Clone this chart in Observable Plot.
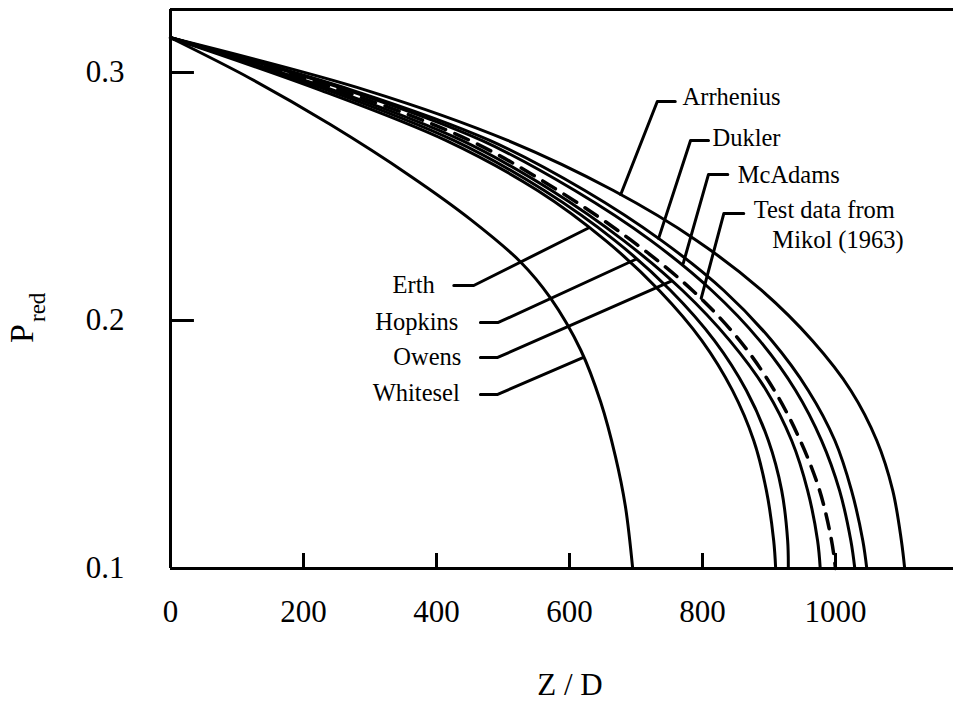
<!DOCTYPE html>
<html><head><meta charset="utf-8">
<script src="https://cdn.jsdelivr.net/npm/d3@7"></script>
<script src="https://cdn.jsdelivr.net/npm/@observablehq/plot@0.6"></script>
<style>html,body{margin:0;padding:0;background:#fff} svg{display:block}</style>
</head><body><div id="chart"></div>
<script>
// ---- data ----
const xTicks = [0, 200, 400, 600, 800, 1000];
const yTicks = [0.1, 0.2, 0.3];

// shared P_red levels for the seven bundled curves
const bundleP = [0.314, 0.2927, 0.2726, 0.2524, 0.2323, 0.2121, 0.1919, 0.1718, 0.1516, 0.1315, 0.1113, 0.100];
const erthX      = [0, 227, 414, 552, 654, 735, 799, 845, 877, 896, 907, 910];
const hopkinsX   = [0, 238, 426, 562, 668, 752, 818, 866, 899, 919, 928, 929];
const owensX     = [0, 247, 438, 573, 681, 770, 841, 896, 934, 958, 973, 977];
const testDataX  = [0, 257, 450, 583, 693, 785, 856, 908, 947, 976, 994, 1000];
const mcadamsX   = [0, 268, 468, 608, 722, 814, 886, 940, 979, 1006, 1023, 1029];
const duklerX    = [0, 275, 480, 623, 738, 832, 904, 959, 999, 1024, 1041, 1047];
const arrheniusX = [0, 296, 507, 666, 791, 889, 965, 1023, 1062, 1086, 1099, 1104];

const whiteselP = [0.314, 0.2976, 0.2789, 0.2582, 0.2408, 0.2237, 0.2092, 0.1880, 0.1670, 0.1452, 0.1251, 0.100];
const whiteselX = [0, 120, 241, 361, 451, 526, 571, 617, 647, 669, 684, 695];

// annotation labels (data coordinates)
const labelText = ["Arrhenius", "Dukler", "McAdams", "Test data from", "Mikol (1963)", "Erth", "Hopkins", "Owens", "Whitesel"];
const labelX    = [770, 815, 853, 877, 905, 334, 308, 335, 304];
const labelP    = [0.290, 0.2734, 0.2585, 0.2444, 0.2323, 0.2141, 0.1992, 0.1851, 0.1706];

// leader lines (data coordinates)
const leaderName = ["Arrhenius", "Dukler", "McAdams", "Test data", "Erth", "Hopkins", "Owens", "Whitesel"];
const leaderX = [[759, 732, 677], [809, 782, 734], [838, 809, 771], [862, 832, 798],
                 [426, 456, 627], [466, 493, 699], [466, 492, 753], [466, 492, 621]];
const leaderP = [[0.2883, 0.2883, 0.2508], [0.2726, 0.2726, 0.2331], [0.2589, 0.2589, 0.2230], [0.2431, 0.2431, 0.2089],
                 [0.2141, 0.2141, 0.2371], [0.1992, 0.1992, 0.2246], [0.1851, 0.1851, 0.2159], [0.1702, 0.1702, 0.1851]];

// ---- build tables ----
const solid = [];
[["Erth", erthX], ["Hopkins", hopkinsX], ["Owens", owensX], ["McAdams", mcadamsX], ["Dukler", duklerX], ["Arrhenius", arrheniusX]]
  .forEach(([name, xs]) => xs.forEach((x, i) => solid.push({name, x, p: bundleP[i]})));
whiteselX.forEach((x, i) => solid.push({name: "Whitesel", x, p: whiteselP[i]}));
const dashed = testDataX.map((x, i) => ({name: "Test data", x, p: bundleP[i]}));
const labels = labelText.map((t, i) => ({t, x: labelX[i], p: labelP[i]}));
const leaders = [];
leaderName.forEach((n, j) => leaderX[j].forEach((x, i) => leaders.push({name: n, x, p: leaderP[j][i]})));

const xMax = 1177.4, yMin = 0.1, yMax = 0.3254;
const font = "'Liberation Serif', 'Times New Roman', serif";

const chart = Plot.plot({
  width: 953, height: 702,
  marginLeft: 170, marginRight: 0, marginTop: 9, marginBottom: 134,
  style: {fontFamily: font, background: "#fff", color: "#000"},
  x: {domain: [0, xMax]},
  y: {domain: [yMin, yMax]},
  marks: [
    // frame (left, top, bottom)
    Plot.ruleX([0], {y1: yMin, y2: yMax, strokeWidth: 3}),
    Plot.ruleY([yMin, yMax], {x1: 0, x2: xMax, strokeWidth: 3}),
    // inward ticks
    Plot.ruleX(xTicks.slice(1), {x: d => d, y1: yMin, y2: yMin + 15 / 2480, strokeWidth: 3}),
    Plot.ruleY(yTicks.slice(1), {y: d => d, x1: 0, x2: 36, strokeWidth: 3}),
    Plot.axisX(xTicks, {tickSize: 0, tickPadding: 31, fontSize: 31, tickFormat: d => String(d), label: null}),
    Plot.axisY(yTicks, {tickSize: 0, tickPadding: 46, fontSize: 31, tickFormat: d3.format(".1f"), label: null}),
    // curves
    Plot.line(solid, {x: "x", y: "p", z: "name", stroke: "#000", strokeWidth: 3, curve: "catmull-rom"}),
    Plot.line(dashed, {x: "x", y: "p", stroke: "#000", strokeWidth: 3.5, strokeDasharray: "15,10", curve: "catmull-rom"}),
    // leaders and labels
    Plot.line(leaders, {x: "x", y: "p", z: "name", stroke: "#000", strokeWidth: 3}),
    Plot.text(labels, {x: "x", y: "p", text: "t", textAnchor: "start", lineAnchor: "middle", fontSize: 24.5, fill: "#000"}),
    // axis titles
    Plot.text(["Z / D"], {frameAnchor: "bottom", dx: 8, dy: 126, fontSize: 31, fill: "#000"}),
    Plot.text(["P"], {frameAnchor: "left", dx: -148, dy: 54, rotate: -90, fontSize: 34, fill: "#000"}),
    Plot.text(["red"], {frameAnchor: "left", dx: -133, dy: 33, rotate: -90, fontSize: 23, fill: "#000"})
  ]
});
document.getElementById("chart").appendChild(chart);
</script>
</body></html>
